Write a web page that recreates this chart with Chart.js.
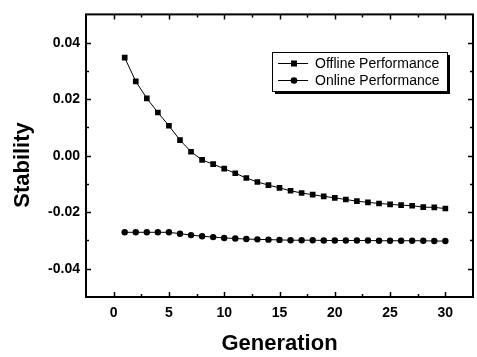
<!DOCTYPE html>
<html>
<head>
<meta charset="utf-8">
<script src="https://cdn.jsdelivr.net/npm/chart.js@4.4.1/dist/chart.umd.min.js"></script>
<style>
  body { margin: 0; background: #fff; }
  #chart { display: block; }
</style>
</head>
<body>
<canvas id="chart" width="477" height="357"></canvas>
<script>
const generations = [1, 2, 3, 4, 5, 6, 7, 8, 9, 10, 11, 12, 13, 14, 15,
  16, 17, 18, 19, 20, 21, 22, 23, 24, 25, 26, 27, 28, 29, 30];

const offline_perf = [0.0347, 0.0263, 0.0203, 0.0153, 0.0106, 0.0055, 0.0014, -0.0015,
  -0.0030, -0.0046, -0.0062, -0.0079, -0.0093, -0.0104, -0.0114, -0.0124, -0.0132,
  -0.0138, -0.0144, -0.0149, -0.0155, -0.0161, -0.0165, -0.0169, -0.0172, -0.0175,
  -0.0177, -0.0182, -0.0183, -0.0187];

const online_perf = [-0.0271, -0.0271, -0.0271, -0.0271, -0.0271, -0.0276, -0.0281,
  -0.0285, -0.0288, -0.0291, -0.0293, -0.0295, -0.0296, -0.0297, -0.0298, -0.0299,
  -0.0299, -0.0299, -0.0300, -0.0300, -0.0300, -0.0300, -0.0300, -0.0301, -0.0301,
  -0.0301, -0.0301, -0.0301, -0.0302, -0.0302];

const x_ticks = [0, 5, 10, 15, 20, 25, 30];
const y_ticks = [-0.04, -0.02, 0.00, 0.02, 0.04];

const series_names = ['Offline Performance', 'Online Performance'];
const y_title = 'Stability';
const x_title = 'Generation';

const FONT = '"Liberation Sans", Arial, sans-serif';

// frame, inward ticks (major + minor, mirrored on top/right), y title and boxed legend
const framePlugin = {
  id: 'frame',
  afterDatasetsDraw (chart) {
    const ctx = chart.ctx;
    const area = chart.chartArea;
    const xs = chart.scales.x;
    const ys = chart.scales.y;
    ctx.save();
    ctx.strokeStyle = '#000';
    ctx.lineWidth = 1.5;

    const xMajor = xs.ticks.map(t => t.value);
    const yMajor = ys.ticks.map(t => t.value);
    const xMinor = [];
    const yMinor = [];
    for (let i = 0; i < xMajor.length - 1; i++) xMinor.push((xMajor[i] + xMajor[i + 1]) / 2);
    for (let i = 0; i < yMajor.length - 1; i++) yMinor.push((yMajor[i] + yMajor[i + 1]) / 2);
    yMinor.unshift(yMajor[0] - (yMajor[1] - yMajor[0]) / 2);
    yMinor.push(yMajor[yMajor.length - 1] + (yMajor[1] - yMajor[0]) / 2);

    ctx.beginPath();
    const xTick = (v, len) => {
      const px = Math.round(xs.getPixelForValue(v)) + 0.5;
      ctx.moveTo(px, area.bottom); ctx.lineTo(px, area.bottom - len);
      ctx.moveTo(px, area.top); ctx.lineTo(px, area.top + len);
    };
    const yTick = (v, len) => {
      const py = Math.round(ys.getPixelForValue(v)) + 0.5;
      if (py <= area.top + 1 || py >= area.bottom - 1) return;
      ctx.moveTo(area.left, py); ctx.lineTo(area.left + len, py);
      ctx.moveTo(area.right, py); ctx.lineTo(area.right - len, py);
    };
    xMajor.forEach(v => xTick(v, 5));
    xMinor.forEach(v => xTick(v, 3));
    yMajor.forEach(v => yTick(v, 5));
    yMinor.forEach(v => yTick(v, 3));
    ctx.stroke();

    ctx.lineWidth = 2;
    ctx.strokeRect(area.left, area.top, area.right - area.left, area.bottom - area.top);

    // y axis title, sits a bit below the middle like the original
    ctx.save();
    ctx.translate(23, 165);
    ctx.rotate(-Math.PI / 2);
    ctx.fillStyle = '#000';
    ctx.font = 'bold 22px ' + FONT;
    ctx.textAlign = 'center';
    ctx.textBaseline = 'middle';
    ctx.fillText(y_title, 0, 0);
    ctx.restore();

    // legend box with drop shadow
    const lx = 272;
    const ly = 52;
    const lw = 175;
    const lh = 39;
    ctx.fillStyle = '#000';
    ctx.fillRect(lx + 3, ly + 3, lw, lh);
    ctx.fillStyle = '#fff';
    ctx.fillRect(lx, ly, lw, lh);
    ctx.lineWidth = 1;
    ctx.strokeRect(lx + 0.5, ly + 0.5, lw, lh);

    ctx.font = '14px ' + FONT;
    ctx.textBaseline = 'middle';
    ctx.textAlign = 'left';
    chart.data.datasets.forEach((ds, i) => {
      const cy = ly + 11.5 + i * 17;
      ctx.beginPath();
      ctx.moveTo(lx + 6, cy);
      ctx.lineTo(lx + 36, cy);
      ctx.stroke();
      ctx.fillStyle = '#000';
      if (ds.pointStyle === 'rect') {
        ctx.fillRect(lx + 19, cy - 3, 6, 6);
      } else {
        ctx.beginPath();
        ctx.arc(lx + 22, cy, 3.3, 0, Math.PI * 2);
        ctx.fill();
      }
      ctx.fillText(ds.label, lx + 43, cy + 0.5);
    });
    ctx.restore();
  }
};

const ctx = document.getElementById('chart').getContext('2d');
const chart = new Chart(ctx, {
  type: 'line',
  data: {
    datasets: [{
      label: series_names[0],
      data: generations.map((g, i) => ({ x: g, y: offline_perf[i] })),
      borderColor: '#000',
      backgroundColor: '#000',
      borderWidth: 1,
      pointStyle: 'rect',
      pointRadius: 4,
      pointBorderWidth: 0,
      tension: 0
    }, {
      label: series_names[1],
      data: generations.map((g, i) => ({ x: g, y: online_perf[i] })),
      borderColor: '#000',
      backgroundColor: '#000',
      borderWidth: 1,
      pointStyle: 'circle',
      pointRadius: 3.2,
      pointBorderWidth: 0,
      tension: 0
    }]
  },
  options: {
    responsive: false,
    animation: false,
    events: [],
    layout: {
      padding: { left: 0, top: 5, right: 3, bottom: 0 }
    },
    plugins: {
      legend: { display: false },
      tooltip: { enabled: false }
    },
    scales: {
      x: {
        type: 'linear',
        min: -2.5,
        max: 32.5,
        afterBuildTicks: scale => { scale.ticks = x_ticks.map(v => ({ value: v })); },
        afterFit: scale => { scale.height = 60; },
        grid: { display: false, drawTicks: false },
        border: { display: false },
        ticks: {
          color: '#000',
          padding: 8,
          maxRotation: 0,
          font: { family: FONT, size: 14, weight: 'bold' },
          callback: v => String(v)
        },
        title: {
          display: true,
          text: x_title,
          color: '#000',
          padding: { top: 0, bottom: 0 },
          font: { family: FONT, size: 22, weight: 'bold' }
        }
      },
      y: {
        type: 'linear',
        min: -0.05,
        max: 0.05,
        afterBuildTicks: scale => { scale.ticks = y_ticks.map(v => ({ value: v })); },
        afterFit: scale => { scale.width = 86; },
        grid: { display: false, drawTicks: false },
        border: { display: false },
        ticks: {
          color: '#000',
          padding: 6,
          font: { family: FONT, size: 14, weight: 'bold' },
          callback: v => v.toFixed(2)
        }
      }
    }
  },
  plugins: [framePlugin]
});
</script>
</body>
</html>
